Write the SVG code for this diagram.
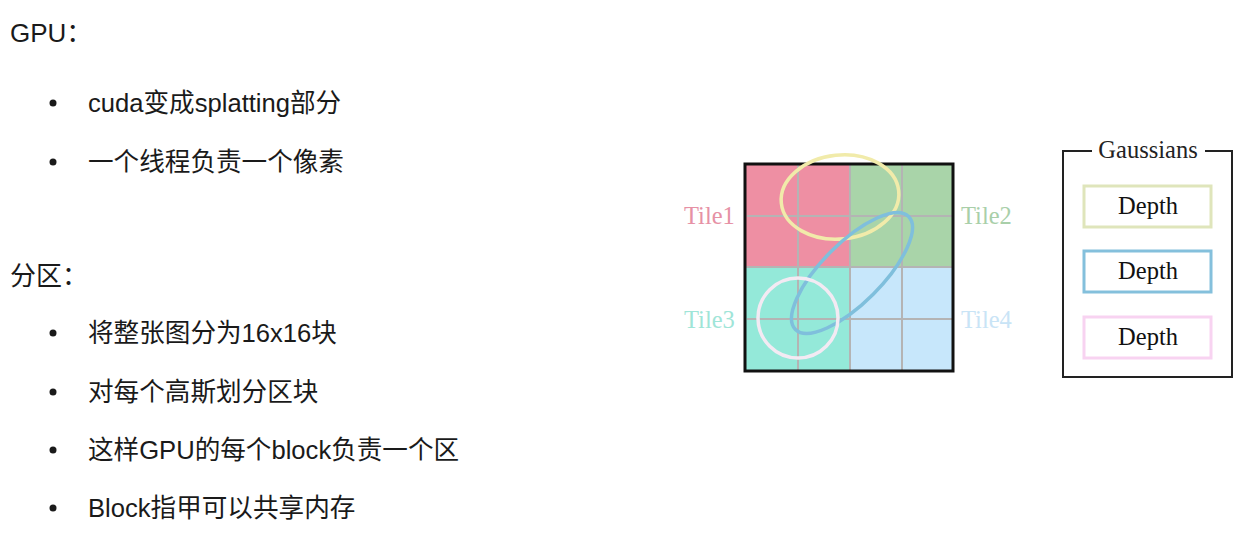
<svg xmlns="http://www.w3.org/2000/svg" width="1258" height="539" viewBox="0 0 1258 539">
<style>
.t{font-family:"Liberation Sans","Noto Sans CJK SC",sans-serif;font-size:25.6px;fill:#1a1a1a}
.h{font-family:"Liberation Sans","Noto Sans CJK SC",sans-serif;font-size:26px;fill:#1a1a1a}
.s{font-family:"Liberation Serif",serif;font-size:24.5px}
.g{stroke:#b4b4b4;stroke-width:2;fill:none}
.d{fill:#fff;stroke-width:3}
</style>
<rect width="1258" height="539" fill="#fff"/>
<g id="text">
<text class="h" x="10" y="42">GPU：</text>
<circle cx="53" cy="103" r="3.5" fill="#1a1a1a"/>
<text class="t" x="88" y="112">cuda变成splatting部分</text>
<circle cx="53" cy="162" r="3.5" fill="#1a1a1a"/>
<text class="t" x="88" y="171">一个线程负责一个像素</text>
<text class="h" x="10" y="285">分区：</text>
<circle cx="53" cy="333" r="3.5" fill="#1a1a1a"/>
<text class="t" x="88" y="342">将整张图分为16x16块</text>
<circle cx="53" cy="392" r="3.5" fill="#1a1a1a"/>
<text class="t" x="88" y="401">对每个高斯划分区块</text>
<circle cx="53" cy="450" r="3.5" fill="#1a1a1a"/>
<text class="t" x="88" y="459">这样GPU的每个block负责一个区</text>
<circle cx="53" cy="508" r="3.5" fill="#1a1a1a"/>
<text class="t" x="88" y="517">Block指甲可以共享内存</text>
</g>
<g id="tiles">
<rect x="745" y="164" width="105" height="103" fill="#ee8fa3"/>
<rect x="850" y="164" width="103" height="103" fill="#a9d4a9"/>
<rect x="745" y="267" width="105" height="104" fill="#94e9d9"/>
<rect x="850" y="267" width="103" height="104" fill="#c7e7fb"/>
<path class="g" d="M798 164V371M850 164V371M902 164V371M747 216H953M745 267H953M747 319H953"/>
<rect x="745" y="164" width="208" height="207" fill="none" stroke="#111" stroke-width="3"/>
<ellipse cx="840" cy="197" rx="59" ry="42" transform="rotate(-6 840 197)" fill="none" stroke="#f1ebaa" stroke-width="3.5"/>
<ellipse cx="852" cy="273" rx="80" ry="30" transform="rotate(-45 852 273)" fill="none" stroke="#7fbfdc" stroke-width="3.5"/>
<circle cx="798" cy="318" r="40" fill="none" stroke="#f3eaf3" stroke-width="3.5"/>
<text class="s" x="684" y="224" fill="#e691a5">Tile1</text>
<text class="s" x="961" y="224" fill="#a9cfa9">Tile2</text>
<text class="s" x="684" y="328" fill="#9fe5d8">Tile3</text>
<text class="s" x="961" y="328" fill="#c9e4f6">Tile4</text>
</g>
<g id="gaussians">
<path d="M1092 151H1063V377H1232V151H1205" fill="none" stroke="#222" stroke-width="2"/>
<text class="s" x="1148" y="158" text-anchor="middle" fill="#222">Gaussians</text>
</g>
<g id="depth1">
<rect class="d" x="1084" y="186" width="127" height="41" stroke="#dfe5bb"/>
<text class="s" x="1148" y="214" text-anchor="middle" fill="#111">Depth</text>
</g>
<g id="depth2">
<rect class="d" x="1084" y="251" width="127" height="41" stroke="#84c0dc"/>
<text class="s" x="1148" y="279" text-anchor="middle" fill="#111">Depth</text>
</g>
<g id="depth3">
<rect class="d" x="1084" y="317" width="127" height="41" stroke="#f8d3f1"/>
<text class="s" x="1148" y="345" text-anchor="middle" fill="#111">Depth</text>
</g>
</svg>
